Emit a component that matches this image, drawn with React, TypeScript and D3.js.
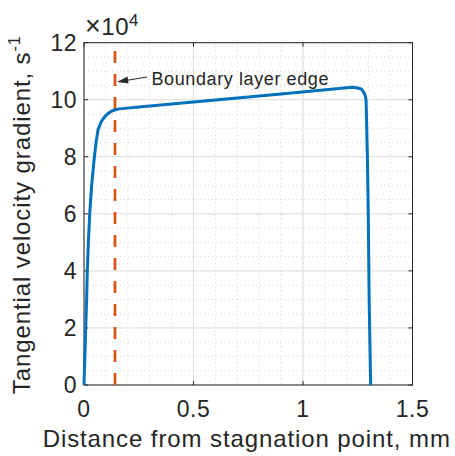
import React from "react";
import * as d3 from "d3";

const distanceMm = [0, 0.004, 0.008, 0.012, 0.015, 0.02, 0.026, 0.035, 0.046, 0.055, 0.064, 0.08, 0.095, 0.11, 0.123, 0.14, 0.16, 0.3, 0.6, 0.9, 1.2, 1.228, 1.25, 1.268, 1.283, 1.288, 1.294, 1.298, 1.302, 1.309];
const gradientE4 = [0, 1, 2.05, 3, 3.97, 5, 6, 7, 7.89, 8.5, 8.95, 9.25, 9.41, 9.52, 9.59, 9.64, 9.68, 9.78, 9.99, 10.2, 10.42, 10.44, 10.41, 10.37, 10.18, 10.0, 8.0, 6.0, 3.0, 0];
const boundaryEdgeMm = 0.1415;
const xTicks = [0, 0.5, 1, 1.5];
const xTickLabels = ["0", "0.5", "1", "1.5"];
const yTicks = [0, 2, 4, 6, 8, 10, 12];
const yTickLabels = ["0", "2", "4", "6", "8", "10", "12"];
const xMinorTicks = d3.range(0, 1.5001, 0.1);
const yMinorTicks = d3.range(0, 12.001, 0.5);
const annotationText = "Boundary layer edge";
const xLabel = "Distance from stagnation point, mm";
const yLabel = "Tangential velocity gradient, s";

const L = 84, R = 412.5, T = 42.7, B = 385;
const FONT = "'Liberation Sans', Arial, Helvetica, sans-serif";
const TXT = "#262626";

export default function App() {
  const x = d3.scaleLinear().domain([0, 1.5]).range([L, R]);
  const y = d3.scaleLinear().domain([0, 12]).range([B, T]);
  const line = d3.line<number>().x((_, i) => x(distanceMm[i])).y((d) => y(d));
  const tickLen = 4;
  return (
    <svg width={455} height={456} style={{ position: "absolute", left: 0, top: 0, background: "#fff" }}>
      <rect x={0} y={0} width={455} height={456} fill="#fff" />
      {xMinorTicks.map((t, i) => (
        <line key={"xm" + i} x1={x(t)} x2={x(t)} y1={T} y2={B} stroke="#d4d4d4" strokeWidth={1} strokeDasharray="1,3" />
      ))}
      {yMinorTicks.map((t, i) => (
        <line key={"ym" + i} x1={L} x2={R} y1={y(t)} y2={y(t)} stroke="#d4d4d4" strokeWidth={1} strokeDasharray="1,3" />
      ))}
      {xTicks.map((t, i) => (
        <line key={"xg" + i} x1={x(t)} x2={x(t)} y1={T} y2={B} stroke="#dfdfdf" strokeWidth={1} />
      ))}
      {yTicks.map((t, i) => (
        <line key={"yg" + i} x1={L} x2={R} y1={y(t)} y2={y(t)} stroke="#dfdfdf" strokeWidth={1} />
      ))}
      <rect x={L} y={T} width={R - L} height={B - T} fill="none" stroke={TXT} strokeWidth={1} />
      {xTicks.map((t, i) => (
        <g key={"xt" + i}>
          <line x1={x(t)} x2={x(t)} y1={B} y2={B - tickLen} stroke={TXT} />
          <line x1={x(t)} x2={x(t)} y1={T} y2={T + tickLen} stroke={TXT} />
          <text x={x(t)} y={416.7} fontFamily={FONT} fontSize={23} letterSpacing={0.5} fill={TXT} textAnchor="middle">{xTickLabels[i]}</text>
        </g>
      ))}
      {yTicks.map((t, i) => (
        <g key={"yt" + i}>
          <line x1={L} x2={L + tickLen} y1={y(t)} y2={y(t)} stroke={TXT} />
          <line x1={R} x2={R - tickLen} y1={y(t)} y2={y(t)} stroke={TXT} />
          <text x={77} y={y(t) + 8.2} fontFamily={FONT} fontSize={23} letterSpacing={0.5} fill={TXT} textAnchor="end">{yTickLabels[i]}</text>
        </g>
      ))}
      <text x={85} y={35} fontFamily={FONT} fontSize={24} letterSpacing={0.5} fill={TXT}>
        <tspan fontSize={27}>×</tspan>10<tspan fontSize={17} dy={-9}>4</tspan>
      </text>
      <line x1={x(boundaryEdgeMm)} x2={x(boundaryEdgeMm)} y1={y(0)} y2={y(12)} stroke="#D95319" strokeWidth={2.7} strokeDasharray="12,11" />
      <path d={line(gradientE4) || ""} fill="none" stroke="#0072BD" strokeWidth={3} strokeLinejoin="round" />
      <line x1={147} y1={77} x2={124} y2={80.8} stroke={TXT} strokeWidth={1} />
      <path d="M117,82 L127.5,76.5 L128.5,83.5 Z" fill={TXT} />
      <text x={151.5} y={84.5} fontFamily={FONT} fontSize={18} letterSpacing={0.6} fill={TXT}>{annotationText}</text>
      <text x={(L + R) / 2 - 1.5} y={446.7} fontFamily={FONT} fontSize={24} letterSpacing={0.9} fill={TXT} textAnchor="middle">{xLabel}</text>
      <text transform={`translate(30,${(T + B) / 2 + 1}) rotate(-90)`} fontFamily={FONT} fontSize={24} letterSpacing={0.9} fill={TXT} textAnchor="middle">
        {yLabel}<tspan fontSize={16} dy={-10}>-1</tspan>
      </text>
    </svg>
  );
}
